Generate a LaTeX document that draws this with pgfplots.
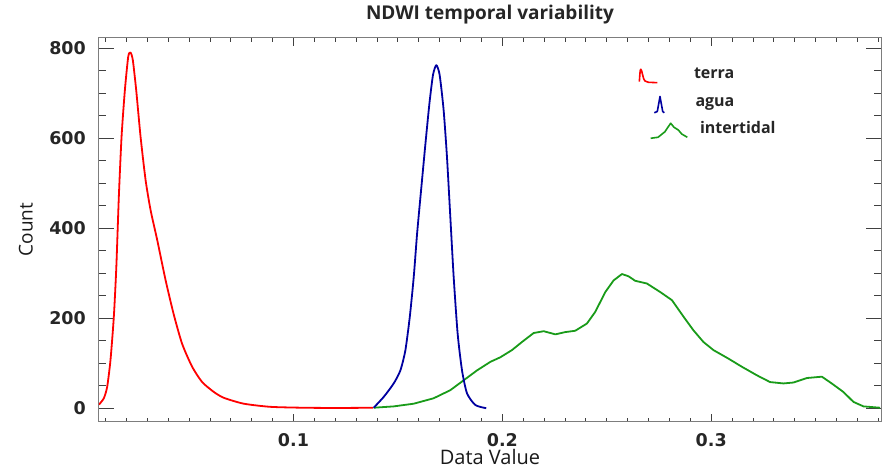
\documentclass[border=0pt]{standalone}
\usepackage{fontspec}
\setmainfont{Open Sans}
\newfontfamily\tickfont{DejaVu Sans}
\usepackage{pgfplots}
\pgfplotsset{compat=1.18}
\definecolor{cred}{RGB}{255,0,0}
\definecolor{cblue}{RGB}{0,0,160}
\definecolor{cgreen}{RGB}{25,155,25}
\definecolor{cframe}{RGB}{125,125,125}

\pgfplotstableread{
x y
0.0069 8
0.0092 22
0.0108 47
0.0124 107
0.0140 203
0.0152 314
0.0164 470
0.0177 603
0.0193 707
0.0209 781
0.0220 790
0.0231 773
0.0247 707
0.0268 603
0.0292 507
0.0316 440
0.0348 373
0.0388 284
0.0427 208
0.0467 143
0.0515 92
0.0563 58
0.0619 36
0.0667 23
0.0762 10
0.0890 3
0.1050 1
0.1210 0.5
0.1380 1
}\terra

\pgfplotstableread{
x y
0.1384 1
0.1432 25
0.1480 55
0.1512 84
0.1536 129
0.1557 203
0.1576 292
0.1592 388
0.1611 484
0.1632 588
0.1651 677
0.1668 740
0.1684 762
0.1700 740
0.1719 662
0.1735 558
0.1751 425
0.1767 292
0.1786 166
0.1807 84
0.1831 33
0.1871 7
0.1923 0
}\agua

\pgfplotstableread{
x y
0.1384 1
0.1480 4
0.1576 10
0.1671 22
0.1751 40
0.1815 62
0.1879 84
0.1943 103
0.1990 113
0.2046 129
0.2094 147
0.2150 167
0.2198 171
0.2254 164
0.2301 169
0.2349 172
0.2405 188
0.2445 214
0.2493 258
0.2533 284
0.2573 298
0.2604 293
0.2636 283
0.2692 277
0.2756 258
0.2812 240
0.2868 203
0.2915 173
0.2963 147
0.3011 129
0.3083 110
0.3147 92
0.3219 73
0.3282 58
0.3346 55
0.3394 57
0.3458 67
0.3530 70
0.3577 55
0.3633 36
0.3681 14
0.3729 4
0.3809 1
}\intertidal

\begin{document}
\begin{tikzpicture}
\useasboundingbox (0,0) rectangle (887pt,468pt);
\begin{axis}[
  at={(99pt,46.3pt)}, anchor=south west,
  width=782pt, height=384pt, scale only axis,
  xmin=0.0069, xmax=0.3813, ymin=-30, ymax=823,
  xtick={0.1,0.2,0.3},
  minor xtick={0.01,0.02,0.03,0.04,0.05,0.06,0.07,0.08,0.09,0.11,0.12,0.13,0.14,0.15,0.16,0.17,0.18,0.19,0.21,0.22,0.23,0.24,0.25,0.26,0.27,0.28,0.29,0.31,0.32,0.33,0.34,0.35,0.36,0.37,0.38},
  ytick={0,200,400,600,800},
  minor ytick={50,100,150,250,300,350,450,500,550,650,700,750},
  xticklabels={0.1,0.2,0.3},
  axis line style={cframe, line width=1pt},
  xtick style={black!75, line width=0.8pt, /pgfplots/major tick length=8pt, /pgfplots/minor tick length=4pt},
  ytick style={black!75, line width=0.8pt, /pgfplots/major tick length=15pt, /pgfplots/minor tick length=7pt},
  /pgf/number format/assume math mode=true,
  ticklabel style={font=\tickfont\bfseries\fontsize{17.5}{20}\selectfont, text=black!85},
  xticklabel style={anchor=north, yshift=-11.3pt, inner sep=0pt},
  yticklabel style={anchor=east, xshift=-13pt, inner sep=0pt},
  title={NDWI temporal variability},
  title style={font=\bfseries\fontsize{19}{21}\selectfont, text=black!85, at={(axis description cs:0.5,1.033)}, anchor=base, inner sep=0pt},
  xlabel={Data Value},
  xlabel style={font=\fontsize{20}{22}\selectfont, text=black!90, at={(axis description cs:0.5,-0.093)}, anchor=center, inner sep=0pt},
  ylabel={Count},
  ylabel style={font=\fontsize{19}{21}\selectfont, text=black!90, at={(axis description cs:-0.0936,0.5)}, anchor=center, inner sep=0pt},
  legend style={at={(axis description cs:0.6867,0.9361)}, anchor=north west, draw=none, fill=none, inner sep=0pt, outer sep=0pt, row sep=0pt,
    font=\bfseries\fontsize{16}{18}\selectfont, text=black!85,
    nodes={inner xsep=2pt, inner ysep=0pt, text height=0.535em, text depth=0pt}},
  legend cell align=left,
]
\addlegendimage{legend image code/.code={
  \path[draw=none, fill=none] (0pt,-13.75pt) rectangle (56pt,13.75pt);
  \draw[cred, line width=1.6pt, line join=round] (3.3pt,-5.7pt) .. controls (4pt,2pt) and (4pt,6.7pt) .. (4.8pt,6.7pt) .. controls (6pt,6.7pt) and (7pt,-4pt) .. (9pt,-5pt) .. controls (10pt,-6.3pt) .. (12.3pt,-6.3pt) -- (21.3pt,-6.7pt);
}}
\addlegendentry{terra}
\addlegendimage{legend image code/.code={
  \path[draw=none, fill=none] (0pt,-13.75pt) rectangle (56pt,13.75pt);
  \draw[cblue, line width=1.6pt, line join=round] (18.3pt,-9.3pt) -- (21.3pt,-8pt) -- (22.7pt,-0.3pt) -- (24pt,7pt) -- (25.3pt,-0.3pt) -- (26.7pt,-8pt) -- (28.3pt,-9.3pt);
}}
\addlegendentry{\hspace{1.5pt}agua}
\addlegendimage{legend image code/.code={
  \path[draw=none, fill=none] (0pt,-13.75pt) rectangle (56pt,13.75pt);
  \draw[cgreen, line width=1.6pt, line join=round] (14.7pt,-7.3pt) -- (22pt,-6.3pt) -- (29pt,-0.7pt) -- (32.3pt,4.3pt) -- (34.7pt,7.7pt) -- (38pt,3.7pt) -- (42.3pt,1pt) -- (45.7pt,-3pt) -- (51.3pt,-6.3pt);
}}
\addlegendentry{\hspace{6pt}intertidal}

\addplot[forget plot, cgreen, line width=1.8pt, line join=round] table[x=x,y=y] {\intertidal};
\addplot[forget plot, cred, line width=1.8pt, line join=round, smooth, tension=0.4] table[x=x,y=y] {\terra};
\addplot[forget plot, cblue, line width=1.8pt, line join=round, smooth, tension=0.4] table[x=x,y=y] {\agua};
\end{axis}
\end{tikzpicture}
\end{document}
